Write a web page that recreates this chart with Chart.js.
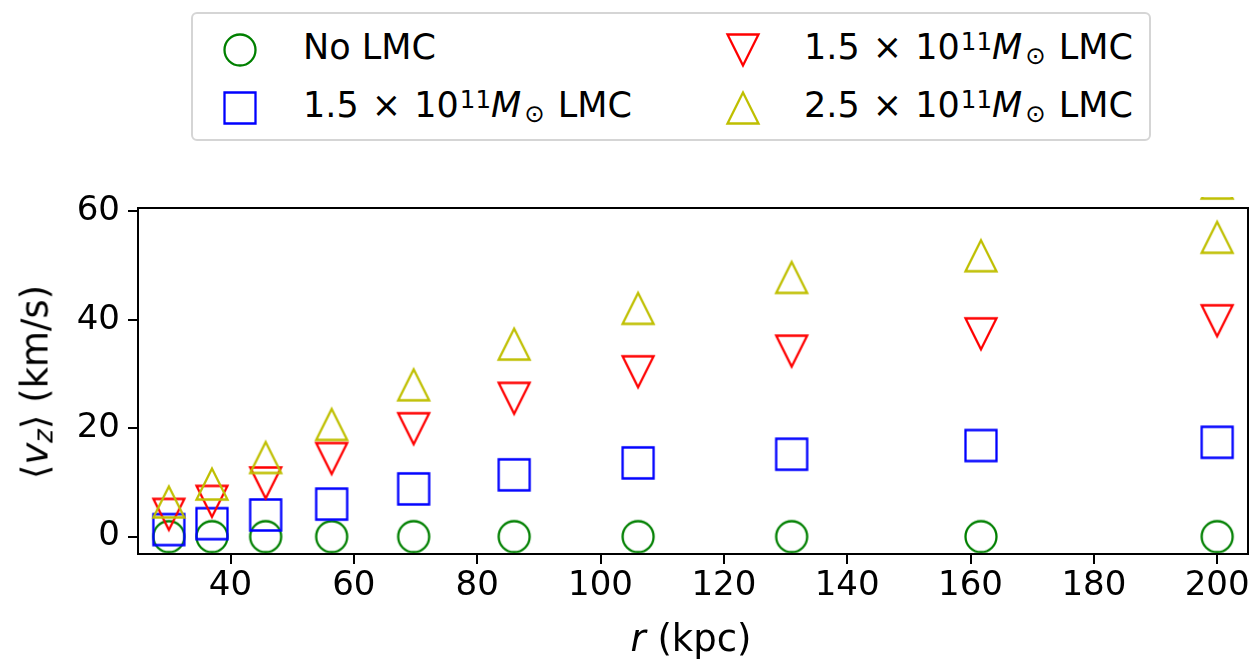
<!DOCTYPE html>
<html>
<head>
<meta charset="utf-8">
<script src="https://cdn.jsdelivr.net/npm/chart.js@4.4.1/dist/chart.umd.min.js"></script>
<style>
  html, body { margin: 0; padding: 0; background: #fff; }
  #wrap { position: relative; width: 1258px; height: 661px; overflow: hidden;
          font-family: 'DejaVu Sans', sans-serif; color: #000; }
  #plot { position: absolute; left: 0; top: 0; }
  .txt { position: absolute; white-space: nowrap; font-size: 35px; line-height: 35px; }
  .ax { font-size: 37px; line-height: 37px; }
  .it { font-style: italic; }
  .sup { font-size: 24.5px; position: relative; top: -8.5px; margin-left: 1px; }
  .sub { font-size: 26px; position: relative; top: 5px; }
  .odot { font-size: 24.5px; position: relative; top: 5px; margin-left: 3px; margin-right: 2px; }
  .op { margin: 0 2px; }
  #legendBox { position: absolute; left: 191px; top: 12px; width: 960px; height: 129px;
               box-sizing: border-box; border: 2px solid #d5d5d5; border-radius: 6px; background: #fff; }
  .mk { position: absolute; }
  .rot { transform: translate(-50%, -50%) rotate(-90deg); }
  .ctr { transform: translate(-50%, -50%); }
</style>
</head>
<body>
<div id="wrap">
  <canvas id="plot" width="1258" height="661"></canvas>

  <div id="legendBox"></div>
  <div class="txt" style="left:303px; top:29.7px;">No LMC</div>
  <div class="txt" style="left:303px; top:87.9px;">1.5 <span class="op">×</span> 10<span class="sup">11</span><span class="it">M</span><span class="odot">⊙</span> LMC</div>
  <div class="txt" style="left:804px; top:29.7px;">1.5 <span class="op">×</span> 10<span class="sup">11</span><span class="it">M</span><span class="odot">⊙</span> LMC</div>
  <div class="txt" style="left:804px; top:87.9px;">2.5 <span class="op">×</span> 10<span class="sup">11</span><span class="it">M</span><span class="odot">⊙</span> LMC</div>

  <div class="txt ax ctr" style="left:691px; top:638px;"><span class="it">r</span> (kpc)</div>
  <div class="txt ax rot" style="left:37px; top:382px;">⟨<span class="it">v</span><span class="sub it">z</span>⟩ (km/s)</div>
</div>

<script>
// Galactocentric radius of each shell (kpc)
const rKpc = [30, 37, 45.7, 56.4, 69.7, 86, 106.1, 131, 161.7, 200];

// Mean vertical velocity <v_z> (km/s) per shell, one array per run
const vzNoLmc   = [0, 0, 0, 0, 0, 0, 0, 0, 0, 0];
const vzLmc15a  = [1.3, 2.4, 4.0, 6.0, 8.8, 11.4, 13.6, 15.2, 16.8, 17.4];
const vzLmc15b  = [4.1, 6.5, 9.9, 14.4, 19.9, 25.5, 30.4, 34.2, 37.4, 39.8];
const vzLmc25   = [6.4, 9.7, 14.6, 20.7, 28.0, 35.5, 42.1, 47.8, 51.8, 55.2];
// an additional 2.5e11 point that sits above the plotted range
const rLmc25Extra  = [200];
const vzLmc25Extra = [65.2];

const seriesNames = ['No LMC', '1.5 × 10¹¹ M⊙ LMC', '1.5 × 10¹¹ M⊙ LMC', '2.5 × 10¹¹ M⊙ LMC'];

// Axis ticks
const xTicks = [40, 60, 80, 100, 120, 140, 160, 180, 200];
const yTicks = [0, 20, 40, 60];

// Open marker sprites (drawn once, reused as point styles)
function makeMarker(shape, color) {
  const W = 40, c = W / 2, s = 15.5;
  const cv = document.createElement('canvas');
  cv.width = W; cv.height = W;
  const g = cv.getContext('2d');
  g.strokeStyle = color;
  g.lineWidth = 2.3;
  g.lineJoin = 'miter';
  g.beginPath();
  if (shape === 'circle') {
    g.arc(c, c, s, 0, Math.PI * 2);
  } else if (shape === 'square') {
    g.rect(c - s, c - s, 2 * s, 2 * s);
  } else if (shape === 'up') {
    g.moveTo(c, c - s); g.lineTo(c - s, c + s); g.lineTo(c + s, c + s);
  } else if (shape === 'down') {
    g.moveTo(c, c + s); g.lineTo(c - s, c - s); g.lineTo(c + s, c - s);
  }
  g.closePath();
  g.stroke();
  return cv;
}

const styles = [
  ['circle', '#008000'],
  ['square', '#0000ff'],
  ['down',   '#ff0000'],
  ['up',     '#bfbf00']
];

// Legend marker icons
const legendCenters = [[240, 49.7], [240, 108.3], [742.5, 49.7], [742.5, 108.3]];
styles.forEach((st, i) => {
  const cv = makeMarker(st[0], st[1]);
  cv.className = 'mk';
  cv.style.left = (legendCenters[i][0] - cv.width / 2) + 'px';
  cv.style.top = (legendCenters[i][1] - cv.height / 2) + 'px';
  document.getElementById('wrap').appendChild(cv);
});

const toPts = (xs, ys) => xs.map((x, i) => ({ x: x, y: ys[i] }));

const datasets = [
  { label: seriesNames[0], data: toPts(rKpc, vzNoLmc),  pointStyle: makeMarker(...styles[0]), order: 3 },
  { label: seriesNames[1], data: toPts(rKpc, vzLmc15a), pointStyle: makeMarker(...styles[1]), order: 2 },
  { label: seriesNames[2], data: toPts(rKpc, vzLmc15b), pointStyle: makeMarker(...styles[2]), order: 1 },
  { label: seriesNames[3], data: toPts(rKpc, vzLmc25).concat(toPts(rLmc25Extra, vzLmc25Extra)),
    pointStyle: makeMarker(...styles[3]), order: 0,
    clip: { left: 0, top: 11, right: 0, bottom: 0 } }
].map(d => Object.assign({ showLine: false, pointRadius: 40, pointHoverRadius: 40 }, d));

const tickFont = { family: 'DejaVu Sans', size: 34 };

const framePlugin = {
  id: 'frame',
  afterDatasetsDraw(chart) {
    const { ctx, chartArea: a } = chart;
    ctx.save();
    ctx.strokeStyle = '#000';
    ctx.lineWidth = 2;
    ctx.strokeRect(a.left, a.top, a.right - a.left, a.bottom - a.top);
    ctx.restore();
  }
};

const axisGrid = { display: true, drawOnChartArea: false, drawTicks: true, tickLength: 10,
                   lineWidth: 2, tickWidth: 2, color: '#000', tickColor: '#000' };

new Chart(document.getElementById('plot'), {
  type: 'scatter',
  data: { datasets: datasets },
  options: {
    responsive: false,
    animation: false,
    devicePixelRatio: 1,
    events: [],
    layout: { autoPadding: false, padding: { top: 208, right: 10, left: 0, bottom: 0 } },
    plugins: { legend: { display: false }, tooltip: { enabled: false }, title: { display: false } },
    scales: {
      x: {
        type: 'linear', min: 25, max: 205,
        afterBuildTicks: s => { s.ticks = xTicks.map(v => ({ value: v })); },
        afterFit: s => { s.height = 107; s.paddingLeft = 0; s.paddingRight = 0; },
        grid: axisGrid,
        border: { display: false },
        ticks: { color: '#000', font: tickFont, padding: 2, maxRotation: 0, autoSkip: false }
      },
      y: {
        type: 'linear', min: -3.2, max: 60.6,
        afterBuildTicks: s => { s.ticks = yTicks.map(v => ({ value: v })); },
        afterFit: s => { s.width = 138; s.paddingTop = 0; s.paddingBottom = 0; },
        grid: axisGrid,
        border: { display: false },
        ticks: { color: '#000', font: tickFont, padding: 8, autoSkip: false }
      }
    }
  },
  plugins: [framePlugin]
});
</script>
</body>
</html>
